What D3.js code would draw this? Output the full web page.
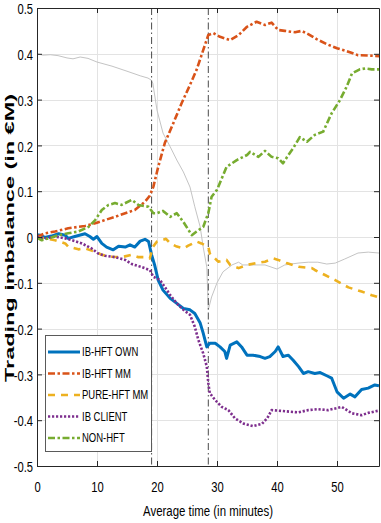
<!DOCTYPE html>
<html><head><meta charset="utf-8">
<script src="https://cdn.jsdelivr.net/npm/d3@7/dist/d3.min.js"></script>
<style>body{margin:0;background:#fff}svg{display:block}</style>
</head><body><svg id="c" width="381" height="523"></svg>
<script>
const xTicks=[0,10,20,30,40,50];
const yTicks=[-0.5,-0.4,-0.3,-0.2,-0.1,0,0.1,0.2,0.3,0.4,0.5];
const yTickLabels=["-0.5","-0.4","-0.3","-0.2","-0.1","0","0.1","0.2","0.3","0.4","0.5"];
const eventTimes=[19.1,28.55];
const seriesNames=["IB-HFT OWN","IB-HFT MM","PURE-HFT MM","IB CLIENT","NON-HFT"];
const seriesColors=["#0072BD","#D95319","#EDB120","#7E2F8E","#77AC30"];

const ibHftOwn=[[0,0.005],[0.5,0.004],[1.3,-0.001],[2.4,0.002],[3.6,0.007],[4.7,0.004],[5.2,-0.003],[6.3,0.001],[8,0.007],[8.8,0.001],[9.4,-0.005],[10,0.001],[10.8,-0.014],[11.6,-0.022],[12.7,-0.028],[13.6,-0.02],[14.7,-0.022],[15.5,-0.017],[16.3,-0.022],[17.2,-0.009],[18,-0.005],[18.6,-0.01],[19.1,-0.039],[19.6,-0.061],[20.2,-0.094],[21,-0.116],[22.2,-0.134],[23.3,-0.145],[24.4,-0.156],[25.5,-0.159],[26.3,-0.167],[27.2,-0.188],[27.7,-0.21],[28.3,-0.24],[28.8,-0.232],[29.7,-0.232],[30.5,-0.24],[31.3,-0.25],[31.6,-0.265],[32.2,-0.236],[33.3,-0.229],[34.1,-0.24],[35,-0.258],[36,-0.258],[37.2,-0.261],[38,-0.265],[38.8,-0.261],[39.7,-0.25],[40.2,-0.24],[41,-0.261],[41.9,-0.258],[42.7,-0.269],[43.6,-0.283],[44.4,-0.298],[45.2,-0.294],[46.3,-0.298],[47.2,-0.296],[48.3,-0.303],[49.1,-0.308],[50,-0.338],[51.1,-0.352],[52.2,-0.343],[53,-0.349],[54.1,-0.333],[55.2,-0.33],[56.3,-0.323],[57,-0.325]];
const ibHftMm=[[0,0],[1.3,0.008],[3,0.012],[5.2,0.019],[8,0.024],[9.7,0.03],[11.3,0.037],[13,0.044],[14.7,0.052],[16.3,0.059],[18,0.077],[18.8,0.09],[19.4,0.11],[20.2,0.153],[21.3,0.205],[22.7,0.248],[24.1,0.292],[25.5,0.332],[26.6,0.365],[27.7,0.408],[28.55,0.441],[29.4,0.445],[30.5,0.437],[32.2,0.43],[33.6,0.441],[35,0.459],[36.6,0.47],[38,0.463],[39.1,0.468],[40.2,0.452],[41.3,0.45],[43,0.447],[44.1,0.45],[45.2,0.443],[46.6,0.432],[48.3,0.421],[50,0.412],[51.6,0.406],[53.5,0.397],[55.5,0.396],[57,0.395]];
const pureHftMm=[[0,0],[1.3,-0.003],[3,-0.007],[4.7,-0.014],[5.2,-0.021],[6.9,-0.027],[8,-0.025],[9.7,-0.032],[10.8,-0.039],[12.5,-0.043],[14.1,-0.044],[15.8,-0.039],[16.9,-0.044],[18,-0.044],[18.8,-0.047],[19.3,-0.022],[20,-0.01],[21.5,-0.004],[22.2,-0.014],[23.3,-0.021],[24.4,-0.025],[25.2,-0.019],[26.6,-0.01],[27.4,-0.014],[28.55,-0.021],[28.8,-0.036],[29.7,-0.047],[30.2,-0.054],[31.6,-0.05],[32.2,-0.061],[33.6,-0.068],[35,-0.061],[36.6,-0.057],[38,-0.054],[39.4,-0.047],[40.2,-0.05],[41.6,-0.057],[43.6,-0.065],[45.8,-0.068],[46.3,-0.072],[48,-0.083],[49.7,-0.094],[51.9,-0.11],[54.1,-0.119],[55.8,-0.127],[57,-0.132]];
const ibClient=[[0,0],[1.3,-0.003],[3,0.001],[4.7,-0.003],[5.8,-0.007],[7.5,-0.014],[9.1,-0.025],[10.2,-0.036],[11.3,-0.041],[13,-0.044],[14.7,-0.05],[15.8,-0.059],[17.5,-0.066],[18.8,-0.072],[19.4,-0.087],[20.5,-0.094],[21.3,-0.109],[22.2,-0.127],[23.3,-0.145],[24.4,-0.159],[25.5,-0.17],[26.3,-0.196],[26.9,-0.225],[27.7,-0.254],[28.3,-0.283],[28.55,-0.319],[28.8,-0.341],[29.7,-0.356],[30.8,-0.371],[31.9,-0.378],[33,-0.396],[34.5,-0.408],[36,-0.413],[37.5,-0.408],[38.4,-0.395],[39.1,-0.378],[41,-0.38],[43.5,-0.383],[45.2,-0.378],[46.8,-0.376],[48.5,-0.378],[50.8,-0.371],[52.5,-0.385],[54.1,-0.389],[55.2,-0.384],[57,-0.379]];
const nonHft=[[0,-0.002],[0.8,-0.007],[1.9,-0.003],[3.6,0.004],[5.2,0.008],[6.9,0.012],[8.6,0.022],[9.7,0.037],[10.8,0.059],[11.9,0.07],[13,0.074],[14.1,0.07],[15.8,0.081],[16.9,0.07],[18.6,0.066],[19.4,0.052],[20,0.052],[21,0.057],[22.2,0.044],[23.3,0.052],[24.4,0.033],[25.8,0.004],[26.6,0.012],[27.7,0.022],[28.55,0.052],[29.1,0.088],[30,0.103],[31.6,0.153],[33.3,0.168],[35,0.179],[35.5,0.186],[36.9,0.175],[38,0.188],[39.1,0.175],[40.2,0.172],[41,0.161],[41.9,0.179],[42.7,0.194],[43.8,0.218],[45,0.208],[46.3,0.223],[47.7,0.23],[49.1,0.27],[50.5,0.299],[51.6,0.328],[52.5,0.357],[53.8,0.366],[54.7,0.368],[55.8,0.366],[57,0.366]];
const referenceLine=[[0,0.4],[1,0.397],[2.2,0.398],[3.5,0.396],[5,0.391],[6,0.389],[7.2,0.393],[8.5,0.39],[10,0.382],[12.5,0.373],[15,0.362],[17.2,0.352],[18.5,0.347],[19,0.343],[19.3,0.336],[20,0.277],[21,0.227],[22.2,0.197],[23.3,0.168],[24.4,0.142],[25.5,0.109],[26.3,0.066],[27.2,0.022],[27.7,-0.022],[28.3,-0.066],[28.55,-0.159],[29.1,-0.131],[30,-0.1],[31,-0.076],[32.5,-0.061],[33.6,-0.055],[34.3,-0.061],[35.5,-0.061],[37.2,-0.061],[38,-0.061],[40,-0.07],[41.3,-0.061],[43.5,-0.057],[45.2,-0.055],[46.8,-0.055],[48.3,-0.059],[49.7,-0.057],[51.3,-0.048],[53.5,-0.035],[55.2,-0.033],[57,-0.035]];

const seriesData=[ibHftOwn,ibHftMm,pureHftMm,ibClient,nonHft];
const dashes=[null,"7,2.5,2.5,2.5","7,6","2.2,1.8","7,2.5,2.5,2.5"];
const widths=[3,2.6,2.6,2.6,2.6];

const L=37,R=379,T=8,B=466;
const svg=d3.select("#c");
const x=d3.scaleLinear().domain([0,57]).range([L,R]);
const y=d3.scaleLinear().domain([-0.5,0.5]).range([B,T]);
const tickFont="'Liberation Sans',Arial,sans-serif";
const axisCol="#262626";
const SX=0.8;

// grid
const g=svg.append("g");
g.selectAll(".gx").data(xTicks.filter(d=>d>0)).enter().append("line")
 .attr("x1",d=>x(d)+0.5).attr("x2",d=>x(d)+0.5).attr("y1",T).attr("y2",B)
 .attr("stroke","#e3e3e3").attr("stroke-width",1);
g.selectAll(".gy").data(yTicks.filter(d=>d>-0.5&&d<0.5)).enter().append("line")
 .attr("y1",d=>Math.round(y(d))+0.5).attr("y2",d=>Math.round(y(d))+0.5).attr("x1",L).attr("x2",R)
 .attr("stroke","#e3e3e3").attr("stroke-width",1);

const defs=svg.append("defs");
defs.append("clipPath").attr("id","clip").append("rect").attr("x",L).attr("y",T).attr("width",R-L).attr("height",B-T);
const plot=svg.append("g").attr("clip-path","url(#clip)");

const line=d3.line().x(d=>x(d[0])).y(d=>y(d[1]));

plot.append("path").datum(referenceLine).attr("d",line).attr("fill","none")
 .attr("stroke","#c4c4c4").attr("stroke-width",1);

plot.selectAll(".ev").data(eventTimes).enter().append("line")
 .attr("x1",d=>x(d)).attr("x2",d=>x(d)).attr("y1",T).attr("y2",B)
 .attr("stroke","#4a4a4a").attr("stroke-width",1).attr("stroke-dasharray","7,3,1.5,3");

seriesData.forEach((s,i)=>{
 plot.append("path").datum(s).attr("d",line).attr("fill","none")
  .attr("stroke",seriesColors[i]).attr("stroke-width",widths[i])
  .attr("stroke-dasharray",dashes[i]).attr("stroke-linejoin","round");
});

// axes
const ax=svg.append("g").attr("transform",`translate(0,${B})`)
 .call(d3.axisBottom(x).tickValues(xTicks).tickSizeInner(-5).tickSizeOuter(0).tickPadding(16).tickFormat(d3.format("d")));
const axT=svg.append("g").attr("transform",`translate(0,${T})`)
 .call(d3.axisTop(x).tickValues(xTicks).tickSizeInner(-5).tickSizeOuter(0).tickFormat(""));
const ay=svg.append("g").attr("transform",`translate(${L},0)`)
 .call(d3.axisLeft(y).tickValues(yTicks).tickSizeInner(-5).tickSizeOuter(0).tickPadding(4).tickFormat((d,i)=>yTickLabels[i]));
const ayR=svg.append("g").attr("transform",`translate(${R},0)`)
 .call(d3.axisRight(y).tickValues(yTicks).tickSizeInner(-5).tickSizeOuter(0).tickFormat(""));
[ax,axT,ay,ayR].forEach(a=>{
 a.selectAll("path").attr("stroke",axisCol).attr("stroke-width",1);
 a.selectAll("line").attr("stroke",axisCol);
 a.selectAll("text").attr("fill","#000").style("font-family",tickFont).style("font-size","14px");
});
// condense tick labels
ax.selectAll("text").attr("transform",`scale(${SX},1)`);
ay.selectAll("text").each(function(){
 const t=d3.select(this); const xx=+t.attr("x");
 t.attr("x",0).attr("dy","0.4em").attr("transform",`translate(${xx},0) scale(${SX},1)`);
});

// axis labels
svg.append("text").attr("x",208).attr("y",516).attr("text-anchor","middle")
 .attr("textLength",130).attr("lengthAdjust","spacingAndGlyphs")
 .style("font-family",tickFont).style("font-size","14px").text("Average time (in minutes)");
svg.append("text").attr("transform","translate(14,238) rotate(-90)").attr("text-anchor","middle")
 .attr("textLength",288).attr("lengthAdjust","spacingAndGlyphs")
 .style("font-family","'Liberation Sans',Arial,sans-serif").style("font-size","13px").style("font-weight","bold")
 .text("Trading imbalance (in €M)");

// legend
const lg=svg.append("g");
lg.append("rect").attr("x",45.5).attr("y",335.5).attr("width",106).attr("height",116)
 .attr("fill","#fff").attr("stroke","#5a5a5a").attr("stroke-width",1);
const ly=[352,373.5,395,416.5,438];
seriesNames.forEach((n,i)=>{
 lg.append("line").attr("x1",48).attr("x2",80).attr("y1",ly[i]).attr("y2",ly[i])
  .attr("stroke",seriesColors[i]).attr("stroke-width",widths[i]).attr("stroke-dasharray",dashes[i]);
 lg.append("text").attr("x",0).attr("y",ly[i]+4.5).text(n)
  .attr("transform",`translate(82,0) scale(0.76,1)`)
  .style("font-family",tickFont).style("font-size","12.5px");
});
</script></body></html>
